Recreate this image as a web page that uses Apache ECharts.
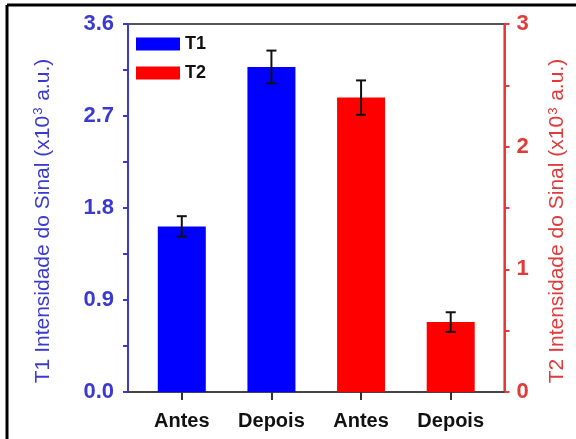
<!DOCTYPE html>
<html><head><meta charset="utf-8">
<script src="https://cdn.jsdelivr.net/npm/echarts@6/dist/echarts.min.js"></script>
<style>html,body{margin:0;padding:0;background:#fff}#c{width:576px;height:439px}</style>
</head><body><div id="c"></div>
<script>
const categories = ['Antes', 'Depois', 'Antes', 'Depois'];
const t1Values = [1.62, 3.18];
const t1Errors = [0.10, 0.16];
const t2Values = [2.40, 0.57];
const t2Errors = [0.14, 0.08];
const leftTicks = [0, 0.9, 1.8, 2.7, 3.6];
const rightTicks = [0, 1, 2, 3];

const pos = [1, 2, 3, 4];
const t1Data = t1Values.map((v, i) => [pos[i], v]);
const t2Data = t2Values.map((v, i) => [pos[i + 2], v]);
const t1Err = t1Values.map((v, i) => [pos[i], v - t1Errors[i], v + t1Errors[i]]);
const t2Err = t2Values.map((v, i) => [pos[i + 2], v - t2Errors[i], v + t2Errors[i]]);

function errRender(params, api) {
  const x = api.value(0);
  const lo = api.coord([x, api.value(1)]);
  const hi = api.coord([x, api.value(2)]);
  const w = 5;
  const st = { stroke: '#111', lineWidth: 2 };
  return { type: 'group', children: [
    { type: 'line', shape: { x1: lo[0], y1: lo[1], x2: hi[0], y2: hi[1] }, style: st },
    { type: 'line', shape: { x1: hi[0] - w, y1: hi[1], x2: hi[0] + w, y2: hi[1] }, style: st },
    { type: 'line', shape: { x1: lo[0] - w, y1: lo[1], x2: lo[0] + w, y2: lo[1] }, style: st }
  ]};
}

const blue = '#3a3ad0', red = '#e03a3a';
function titleStyle(color) {
  return {
    color: color, fontSize: 21, padding: [0, 26, 0, 0],
    rich: {
      a: { color: color, fontSize: 21, fontFamily: 'Liberation Sans' },
      s: { color: color, fontSize: 13, verticalAlign: 'top', padding: [0, 1, 9, 1], fontFamily: 'Liberation Sans' }
    }
  };
}
const chart = echarts.init(document.getElementById('c'));
chart.setOption({
  animation: false,
  backgroundColor: '#fff',
  textStyle: { fontFamily: 'Liberation Sans' },
  grid: { left: 128, right: 68, top: 24, bottom: 47, show: true, borderColor: '#555', borderWidth: 2, backgroundColor: 'transparent' },
  legend: {
    left: 136, top: 35, padding: 0, orient: 'vertical', itemWidth: 44, itemHeight: 13, itemGap: 11,
    textStyle: { fontSize: 18, fontWeight: 'bold', color: '#111' },
    data: ['T1', 'T2'], icon: 'rect'
  },
  xAxis: {
    type: 'value', min: 0.4, max: 4.6,
    axisLine: { show: true, lineStyle: { color: '#444', width: 2 } },
    axisTick: { show: true, customValues: pos, length: 8, lineStyle: { color: '#333', width: 2 } },
    axisLabel: { customValues: pos, formatter: v => categories[Math.round(v) - 1] || '', fontSize: 20, fontWeight: 'bold', color: '#111', margin: 19 },
    splitLine: { show: false }
  },
  yAxis: [
    {
      type: 'value', min: 0, max: 3.6, interval: 0.9, position: 'left',
      name: '{a|T1 Intensidade do Sinal (x10}{s|3}{a| a.u.)}', nameLocation: 'middle', nameRotate: 90, nameGap: 74,
      nameTextStyle: titleStyle(blue),
      axisLine: { show: true, lineStyle: { color: blue, width: 2 } },
      axisTick: { show: true, length: 5, lineStyle: { color: blue, width: 2 } },
      minorTick: { show: true, splitNumber: 2, length: 5, lineStyle: { color: blue, width: 2 } },
      axisLabel: { formatter: v => v.toFixed(1), fontSize: 22, fontWeight: 'bold', color: blue, margin: 14 },
      splitLine: { show: false }
    },
    {
      type: 'value', min: 0, max: 3, interval: 1, position: 'right',
      name: '{a|T2 Intensidade do Sinal (x10}{s|3}{a| a.u.)}', nameLocation: 'middle', nameRotate: 90, nameGap: 42,
      nameTextStyle: titleStyle(red),
      axisLine: { show: true, lineStyle: { color: red, width: 2 } },
      axisTick: { show: true, length: 5, lineStyle: { color: red, width: 2 } },
      minorTick: { show: true, splitNumber: 2, length: 5, lineStyle: { color: red, width: 2 } },
      axisLabel: { fontSize: 22, fontWeight: 'bold', color: red, margin: 12 },
      splitLine: { show: false }
    }
  ],
  series: [
    { name: 'T1', type: 'bar', yAxisIndex: 0, data: t1Data, barWidth: 48, barGap: '-100%', itemStyle: { color: '#0000ff' } },
    { name: 'T2', type: 'bar', yAxisIndex: 1, data: t2Data, barWidth: 48, barGap: '-100%', itemStyle: { color: '#ff0000' } },
    { type: 'custom', yAxisIndex: 0, data: t1Err, renderItem: errRender, z: 5, encode: { x: 0, y: [1, 2] } },
    { type: 'custom', yAxisIndex: 1, data: t2Err, renderItem: errRender, z: 5, encode: { x: 0, y: [1, 2] } }
  ],
  graphic: [
    { type: 'line', shape: { x1: 7, y1: 5, x2: 576, y2: 5 }, style: { stroke: '#000', lineWidth: 3 } },
    { type: 'line', shape: { x1: 7, y1: 5, x2: 7, y2: 439 }, style: { stroke: '#000', lineWidth: 3 } }
  ]
});
</script></body></html>
